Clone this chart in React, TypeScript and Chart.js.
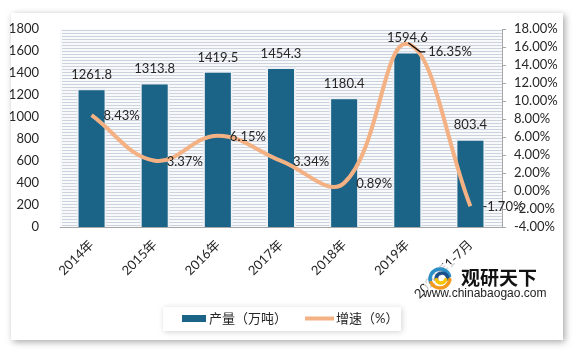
import React, { useEffect, useRef } from "react";
import { Chart, registerables } from "chart.js";

Chart.register(...registerables);

const categories = ["2014年", "2015年", "2016年", "2017年", "2018年", "2019年", "2020年1-7月"];
const output = [1261.8, 1313.8, 1419.5, 1454.3, 1180.4, 1594.6, 803.4];
const growth = [8.43, 3.37, 6.15, 3.34, 0.89, 16.35, -1.7];
const outputLabel = "产量（万吨）";
const growthLabel = "增速（%）";
const leftMin = 0;
const leftMax = 1800;
const leftStep = 200;
const rightMin = -4;
const rightMax = 18;
const rightStep = 2;

const FONT = "Lato, 'Noto Sans CJK SC', sans-serif";
const BAR_COLOR = "#1b6488";
const LINE_COLOR = "#f4b183";
const TEXT_COLOR = "#262626";

const bgPlugin = {
  id: "bgPlugin",
  beforeDraw(chart: any) {
    const { ctx, chartArea } = chart;
    ctx.save();
    ctx.fillStyle = "#ffffff";
    ctx.fillRect(0, 0, chart.width, chart.height);
    // card
    ctx.shadowColor = "rgba(0,0,0,0.35)";
    ctx.shadowBlur = 7;
    ctx.shadowOffsetX = 2;
    ctx.shadowOffsetY = 2;
    ctx.fillStyle = "#ffffff";
    ctx.fillRect(11, 13, 552, 327);
    ctx.shadowColor = "transparent";
    ctx.shadowBlur = 0;
    ctx.shadowOffsetX = 0;
    ctx.shadowOffsetY = 0;
    // striped plot area
    const { left, right, top, bottom } = chartArea;
    ctx.fillStyle = "#f8f9fb";
    ctx.fillRect(left, top, right - left, bottom - top);
    ctx.strokeStyle = "#ccd3de";
    ctx.lineWidth = 1;
    for (let y = top + 1; y < bottom; y += 3) {
      ctx.beginPath();
      ctx.moveTo(left + 2, y + 0.5);
      ctx.lineTo(right, y + 0.5);
      ctx.stroke();
    }
    ctx.restore();
  },
};

const labelPlugin = {
  id: "labelPlugin",
  afterDatasetsDraw(chart: any) {
    const { ctx } = chart;
    ctx.save();
    ctx.font = `13px ${FONT}`;
    ctx.fillStyle = TEXT_COLOR;
    // bar labels
    const barMeta = chart.getDatasetMeta(1);
    barMeta.data.forEach((bar: any, i: number) => {
      ctx.textAlign = "center";
      ctx.textBaseline = "middle";
      ctx.fillText(String(output[i]), bar.x, bar.y - 13.5);
    });
    // line labels
    const lineMeta = chart.getDatasetMeta(0);
    lineMeta.data.forEach((pt: any, i: number) => {
      const txt = growth[i].toFixed(2) + "%";
      ctx.textAlign = "left";
      ctx.textBaseline = "middle";
      if (i === 5) {
        ctx.strokeStyle = "#000";
        ctx.lineWidth = 1.2;
        ctx.beginPath();
        ctx.moveTo(pt.x + 1, pt.y - 1);
        ctx.lineTo(pt.x + 13, pt.y + 8);
        ctx.lineTo(pt.x + 18, pt.y + 8);
        ctx.stroke();
        ctx.fillText(txt, pt.x + 21, pt.y + 8);
      } else {
        ctx.fillText(txt, pt.x + 12, pt.y + 1);
      }
    });
    ctx.restore();
  },
  afterDraw(chart: any) {
    const { ctx } = chart;
    ctx.save();
    // legend box
    ctx.shadowColor = "rgba(0,0,0,0.18)";
    ctx.shadowBlur = 6;
    ctx.shadowOffsetX = 1;
    ctx.shadowOffsetY = 1;
    ctx.fillStyle = "#ffffff";
    ctx.fillRect(163, 307, 238, 24);
    ctx.shadowColor = "transparent";
    ctx.shadowBlur = 0;
    ctx.shadowOffsetX = 0;
    ctx.shadowOffsetY = 0;
    ctx.fillStyle = BAR_COLOR;
    ctx.fillRect(182, 315, 24, 7);
    ctx.font = `13px ${FONT}`;
    ctx.fillStyle = TEXT_COLOR;
    ctx.textAlign = "left";
    ctx.textBaseline = "middle";
    ctx.fillText(outputLabel, 209, 319);
    ctx.strokeStyle = LINE_COLOR;
    ctx.lineWidth = 4;
    ctx.beginPath();
    ctx.moveTo(305, 318.5);
    ctx.lineTo(334, 318.5);
    ctx.stroke();
    ctx.fillText(growthLabel, 336, 319);

    // watermark logo
    ctx.fillStyle = "rgba(255,255,255,0.75)";
    ctx.fillRect(424, 264, 118, 36);
    const cx = 440, cy = 279;
    ctx.lineCap = "round";
    ctx.lineWidth = 3.5;
    ctx.strokeStyle = "#2a8fc6";
    ctx.beginPath();
    ctx.arc(cx, cy, 10, Math.PI * 0.9, Math.PI * 1.9);
    ctx.stroke();
    ctx.strokeStyle = "#1a4f8a";
    ctx.beginPath();
    ctx.arc(cx + 2, cy, 6, Math.PI * 1.0, Math.PI * 2.0);
    ctx.stroke();
    ctx.strokeStyle = "#f39a1e";
    ctx.beginPath();
    ctx.arc(cx, cy - 1, 10, Math.PI * 0.05, Math.PI * 0.85);
    ctx.stroke();
    ctx.strokeStyle = "#f5c400";
    ctx.beginPath();
    ctx.arc(cx + 1, cy - 1, 5, Math.PI * 0.1, Math.PI * 0.9);
    ctx.stroke();
    ctx.fillStyle = "#111";
    ctx.font = `bold 19px 'Noto Sans CJK SC', sans-serif`;
    ctx.textAlign = "left";
    ctx.textBaseline = "middle";
    ctx.fillText("观研天下", 461, 278);
    ctx.font = `12px 'Liberation Sans', Arial, sans-serif`;
    ctx.fillStyle = "#222";
    ctx.fillText("www.chinabaogao.com", 423, 294);
    ctx.restore();
  },
};

export default function App() {
  const ref = useRef<HTMLCanvasElement | null>(null);
  useEffect(() => {
    if (!ref.current) return;
    const chart = new Chart(ref.current, {
      type: "bar",
      data: {
        labels: categories,
        datasets: [
          {
            type: "line",
            label: growthLabel,
            data: growth,
            yAxisID: "y1",
            borderColor: LINE_COLOR,
            backgroundColor: LINE_COLOR,
            borderWidth: 4,
            tension: 0.4,
            pointRadius: 0,
            fill: false,
            order: 0,
          } as any,
          {
            type: "bar",
            label: outputLabel,
            data: output,
            yAxisID: "y",
            backgroundColor: BAR_COLOR,
            borderColor: "rgba(236,240,244,0.95)",
            borderWidth: 2,
            borderSkipped: "bottom",
            categoryPercentage: 1,
            barPercentage: 0.475,
            order: 1,
          } as any,
        ],
      },
      options: {
        responsive: false,
        animation: false,
        layout: { padding: { top: 29, left: 0, right: 0, bottom: 0 } },
        plugins: {
          legend: { display: false },
          tooltip: { enabled: false },
        },
        scales: {
          x: {
            grid: { display: false },
            border: { display: true, color: "#a6a6a6" },
            ticks: {
              maxRotation: 45,
              minRotation: 45,
              autoSkip: false,
              padding: 2,
              color: TEXT_COLOR,
              font: { family: FONT, size: 13 },
            },
            afterFit(s: any) {
              s.height = 124;
            },
          },
          y: {
            position: "left",
            min: leftMin,
            max: leftMax,
            grid: { display: false },
            border: { display: false },
            ticks: {
              stepSize: leftStep,
              autoSkip: false,
              padding: 13,
              color: TEXT_COLOR,
              font: { family: FONT, size: 13 },
              callback: (v: any) => String(v),
            },
            afterFit(s: any) {
              s.width = 60;
            },
          },
          y1: {
            position: "right",
            min: rightMin,
            max: rightMax,
            grid: { drawOnChartArea: false, tickLength: 4, color: "#a6a6a6" },
            border: { display: true, color: "#a6a6a6" },
            ticks: {
              stepSize: rightStep,
              autoSkip: false,
              padding: 8,
              color: TEXT_COLOR,
              font: { family: FONT, size: 13 },
              callback: (v: any) => Number(v).toFixed(2) + "%",
            },
            afterFit(s: any) {
              s.width = 74;
            },
          },
        },
      } as any,
      plugins: [bgPlugin, labelPlugin],
    });
    return () => chart.destroy();
  }, []);
  return (
    <div style={{ position: "absolute", left: 0, top: 0, width: 576, height: 351 }}>
      <canvas ref={ref} width={576} height={351} style={{ display: "block" }} />
    </div>
  );
}
